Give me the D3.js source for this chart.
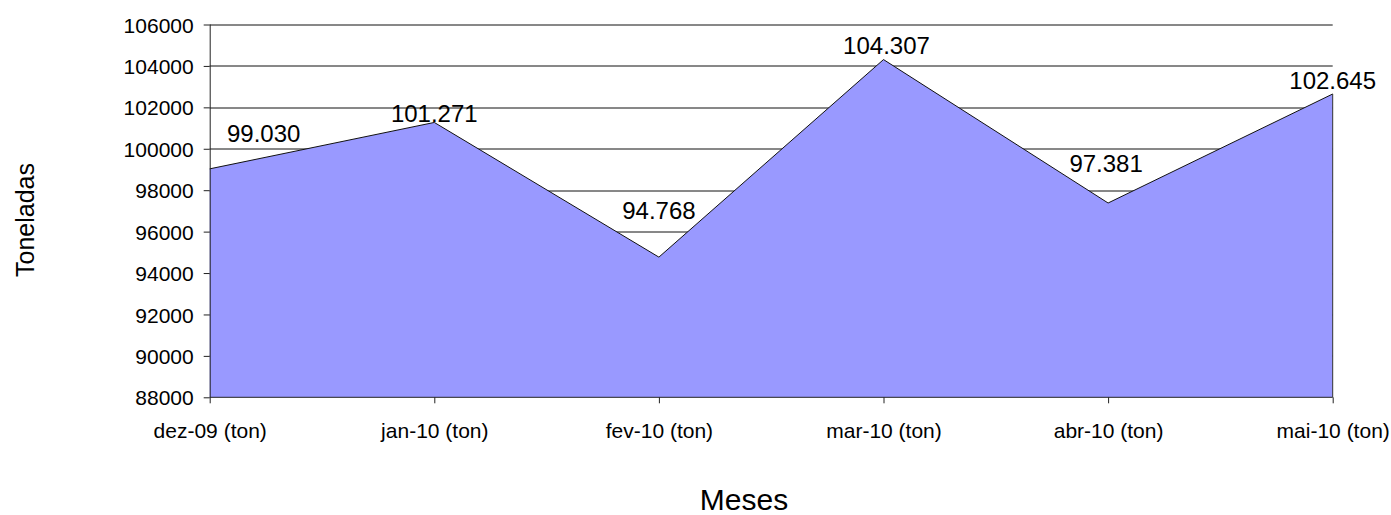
<!DOCTYPE html>
<html>
<head>
<meta charset="utf-8">
<script src="https://cdn.jsdelivr.net/npm/d3@7"></script>
<style>
  html, body { margin: 0; padding: 0; background: #fff; }
  svg { display: block; font-family: "Liberation Sans", Arial, sans-serif; }
</style>
</head>
<body>
<svg id="svg" width="1391" height="515"></svg>
<script>
// months and tonnage
var months = ["dez-09 (ton)", "jan-10 (ton)", "fev-10 (ton)", "mar-10 (ton)", "abr-10 (ton)", "mai-10 (ton)"];
var tons = [99030, 101271, 94768, 104307, 97381, 102645];
var yTicks = [88000, 90000, 92000, 94000, 96000, 98000, 100000, 102000, 104000, 106000];

// where excel put the data labels, relative to the point (baseline)
var labelDx = [54, 0, 0, 3, -2, 0];
var labelDy = [-27, 0, -38, -6, -31, -5];

var width = 1391,
    height = 515;
var margin = {top: 24.5, right: 58.3, bottom: 117.7, left: 209.7};
var gwidth = width - margin.left - margin.right,
    gheight = height - margin.top - margin.bottom;

var container = d3.select("#svg");
var svg = container.append("g")
    .attr("transform", "translate(" + margin.left + "," + margin.top + ")");

var x = d3.scalePoint()
    .domain(months)
    .range([0, gwidth]);

var y = d3.scaleLinear()
    .domain([88000, 106000])
    .range([gheight, 0]);

var data = months.map(function(m, i){ return {m: m, v: tons[i], i: i}; });

// gridlines
svg.append("g")
    .selectAll("line")
    .data(yTicks.slice(1))
    .enter().append("line")
    .attr("x1", 0)
    .attr("x2", gwidth)
    .attr("y1", function(d){ return Math.round(y(d)) + 0.5; })
    .attr("y2", function(d){ return Math.round(y(d)) + 0.5; })
    .attr("stroke", "#111")
    .attr("stroke-width", 1);

// the area
var area = d3.area()
    .x(function(d){ return x(d.m); })
    .y0(y(88000))
    .y1(function(d){ return y(d.v); });

svg.append("path").datum(data)
    .attr("fill", "#9999ff")
    .attr("stroke", "none")
    .attr("d", area);

var line = d3.line()
    .x(function(d){ return x(d.m); })
    .y(function(d){ return y(d.v); });

svg.append("path").datum(data)
    .attr("fill", "none")
    .attr("stroke", "#111")
    .attr("stroke-width", 1)
    .attr("d", line);

// right edge of the area
svg.append("line")
    .attr("x1", gwidth).attr("x2", gwidth)
    .attr("y1", y(tons[tons.length - 1])).attr("y2", gheight)
    .attr("stroke", "#333");

// axes
var yAxis = d3.axisLeft(y)
    .tickValues(yTicks)
    .tickSize(6)
    .tickPadding(10)
    .tickFormat(d3.format("d"));

var xAxis = d3.axisBottom(x)
    .tickSize(6)
    .tickPadding(0)
    .tickFormat(function(d){ return d; });

var gy = svg.append("g")
    .attr("class", "y axis")
    .call(yAxis);

var gx = svg.append("g")
    .attr("class", "x axis")
    .attr("transform", "translate(0," + gheight + ")")
    .call(xAxis);

svg.selectAll(".axis path")
    .attr("stroke", "#222");
svg.selectAll(".axis line")
    .attr("stroke", "#222");
svg.selectAll(".axis text")
    .attr("font-family", "Liberation Sans, Arial, sans-serif")
    .attr("fill", "#000");
gy.select(".domain").attr("d", "M0.5," + gheight + "V0");
gx.select(".domain").attr("d", "M0,0H" + gwidth);

gy.selectAll(".tick text")
    .attr("font-size", 21)
    .attr("dy", "0.36em");

gx.selectAll(".tick text")
    .attr("font-size", 21)
    .attr("y", 40.5)
    .attr("dy", 0);

// data labels
var fmt = d3.formatLocale({decimal: ",", thousands: ".", grouping: [3], currency: ["", ""]}).format(",");

svg.append("g")
    .selectAll("text")
    .data(data)
    .enter().append("text")
    .attr("text-anchor", "middle")
    .attr("font-size", 24)
    .attr("fill", "#000")
    .attr("x", function(d){ return x(d.m) + labelDx[d.i]; })
    .attr("y", function(d){ return y(d.v) + labelDy[d.i]; })
    .text(function(d){ return fmt(d.v); });

// axis titles
container.append("text")
    .attr("text-anchor", "middle")
    .attr("font-size", 25)
    .attr("transform", "translate(34,220) rotate(-90)")
    .text("Toneladas");

container.append("text")
    .attr("text-anchor", "middle")
    .attr("font-size", 30)
    .attr("x", 744)
    .attr("y", 510)
    .text("Meses");
</script>
</body>
</html>
